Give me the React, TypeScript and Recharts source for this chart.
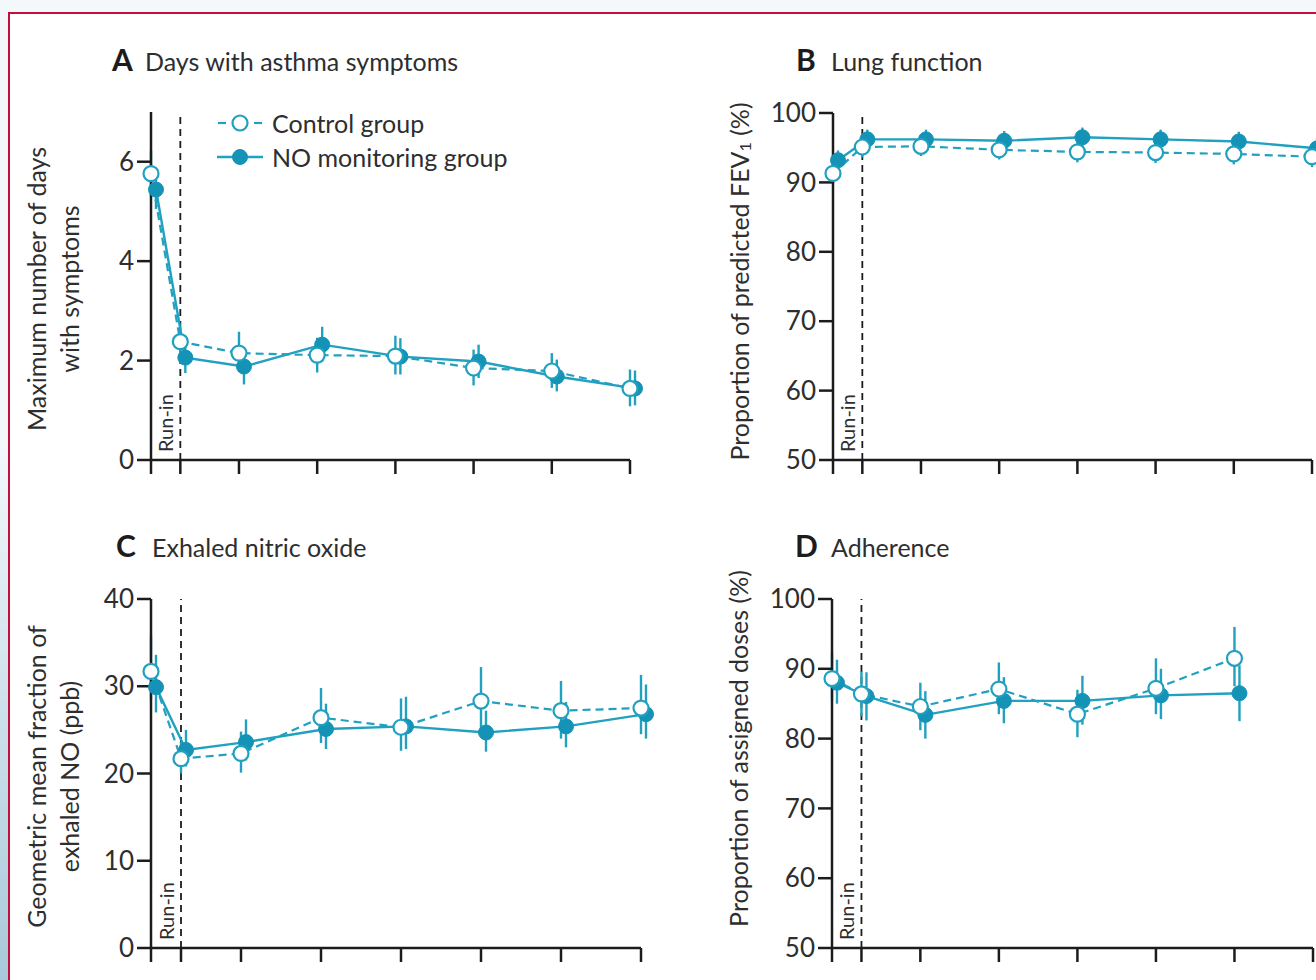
import React from "react";
import { LineChart, Line, XAxis, YAxis, ErrorBar, ReferenceLine, Legend } from "recharts";

// visit times (weeks from start of run-in); run-in ends at 1.5
const weeks = [0, 1.5, 4.5, 8.5, 12.5, 16.5, 20.5, 24.5];
const runInEnd = 1.5;

// A: days with asthma symptoms
const symptomsControl = [5.76, 2.38, 2.15, 2.11, 2.09, 1.85, 1.79, 1.44];
const symptomsControlLow = [5.3, 2.1, 1.78, 1.76, 1.72, 1.5, 1.45, 1.08];
const symptomsControlHigh = [6.22, 2.66, 2.58, 2.46, 2.5, 2.22, 2.15, 1.82];
const symptomsNO = [5.44, 2.06, 1.88, 2.32, 2.08, 1.98, 1.68, 1.44];
const symptomsNOLow = [5.05, 1.75, 1.52, 1.98, 1.72, 1.65, 1.38, 1.1];
const symptomsNOHigh = [5.85, 2.38, 2.26, 2.68, 2.45, 2.32, 2.02, 1.8];

// B: lung function (% predicted FEV1)
const fevControl = [91.3, 95.1, 95.2, 94.7, 94.4, 94.3, 94.1, 93.7];
const fevControlLow = [89.8, 93.6, 93.8, 93.3, 92.9, 92.8, 92.6, 92.2];
const fevControlHigh = [92.8, 96.6, 96.6, 96.1, 95.9, 95.8, 95.6, 95.2];
const fevNO = [93.2, 96.2, 96.2, 96.0, 96.5, 96.2, 95.9, 94.9];
const fevNOLow = [91.8, 94.8, 94.8, 94.6, 95.1, 94.8, 94.5, 93.5];
const fevNOHigh = [94.6, 97.6, 97.6, 97.4, 97.9, 97.6, 97.3, 96.3];

// C: exhaled nitric oxide (ppb)
const fenoControl = [31.7, 21.7, 22.3, 26.4, 25.3, 28.3, 27.2, 27.5];
const fenoControlLow = [28.5, 20.0, 20.1, 23.5, 22.6, 24.6, 24.0, 24.5];
const fenoControlHigh = [35.8, 23.6, 24.8, 29.8, 28.6, 32.2, 30.6, 31.3];
const fenoNO = [29.9, 22.7, 23.6, 25.1, 25.4, 24.7, 25.4, 26.8];
const fenoNOLow = [27.0, 20.8, 21.5, 22.8, 22.8, 22.5, 23.0, 24.0];
const fenoNOHigh = [33.6, 25.0, 26.2, 28.0, 28.8, 27.2, 28.2, 30.2];

// D: adherence (% of assigned doses), no value at last visit
const adhControl = [88.6, 86.4, 84.6, 87.1, 83.5, 87.2, 91.5];
const adhControlLow = [85.5, 83.2, 81.2, 83.5, 80.2, 83.5, 87.5];
const adhControlHigh = [92.3, 89.6, 88.0, 90.9, 87.0, 91.5, 96.0];
const adhNO = [88.0, 86.1, 83.4, 85.4, 85.4, 86.2, 86.5];
const adhNOLow = [85.0, 82.6, 80.0, 82.2, 82.0, 82.8, 82.5];
const adhNOHigh = [91.3, 89.5, 86.8, 88.8, 89.0, 90.0, 90.5];

const TEAL = "#21a0bf";
const DOT = "#1593b6";
const INK = "#1c1c1c";
const TEXT = "#2e2e2e";
const FONT = "Lato, 'Open Sans', sans-serif";
const DODGE_PX = 5; // NO group drawn a little right of the control group

function buildRows(ctrl: number[], ctrlLow: number[], ctrlHigh: number[], no: number[], noLow: number[], noHigh: number[]) {
  return ctrl.map((v, i) => ({
    week: weeks[i],
    ctrl: v,
    ctrlErr: [v - ctrlLow[i], ctrlHigh[i] - v],
    no: no[i],
    noErr: [no[i] - noLow[i], noHigh[i] - no[i]],
  }));
}

const runInLabel = (props: any) => {
  const vb = props.viewBox;
  const x = vb.x - 7;
  const y = vb.y + vb.height - 8;
  return (
    <text x={x} y={y} transform={`rotate(-90 ${x} ${y})`} fontSize={20} fill={TEXT} fontFamily={FONT}>
      Run-in
    </text>
  );
};

const yTitle = (lines: React.ReactNode[], xs: number[], dy: number) => (props: any) => {
  const vb = props.viewBox;
  const cy = vb.y + vb.height / 2 + dy;
  return (
    <g>
      {lines.map((l, i) => {
        const x = vb.x + xs[i];
        return (
          <text key={i} x={x} y={cy} transform={`rotate(-90 ${x} ${cy})`} textAnchor="middle" dominantBaseline="central" fontSize={25} fill={TEXT} fontFamily={FONT}>
            {l}
          </text>
        );
      })}
    </g>
  );
};

const legendContent = () => (
  <div style={{ fontFamily: FONT, fontSize: 25, color: TEXT }}>
    <div style={{ display: "flex", alignItems: "center", height: 34 }}>
      <svg width={48} height={24}>
        <line x1={2} y1={12} x2={10} y2={12} stroke={TEAL} strokeWidth={2.2} />
        <line x1={38} y1={12} x2={46} y2={12} stroke={TEAL} strokeWidth={2.2} />
        <circle cx={24} cy={12} r={7.5} fill="#fff" stroke={TEAL} strokeWidth={2.2} />
      </svg>
      <span style={{ marginLeft: 8 }}>Control group</span>
    </div>
    <div style={{ display: "flex", alignItems: "center", height: 34 }}>
      <svg width={48} height={24}>
        <line x1={1} y1={12} x2={47} y2={12} stroke={TEAL} strokeWidth={2.4} />
        <circle cx={24} cy={12} r={7.5} fill={DOT} stroke={DOT} strokeWidth={1} />
      </svg>
      <span style={{ marginLeft: 8 }}>NO monitoring group</span>
    </div>
  </div>
);

interface PanelProps {
  rows: any[];
  left: number;
  top: number;
  width: number;
  height: number;
  marginTop: number;
  yAxisWidth: number;
  domain: [number, number];
  ticks: number[];
  title: (props: any) => React.ReactNode;
  legend?: boolean;
}

function Panel({ rows, left, top, width, height, marginTop, yAxisWidth, domain, ticks, title, legend }: PanelProps) {
  const axisStyle = { stroke: INK, strokeWidth: 2.5 };
  return (
    <div style={{ position: "absolute", left, top }}>
      <LineChart width={width} height={height} data={rows} margin={{ top: marginTop, right: 30, bottom: 0, left: 0 }}>
        <XAxis
          xAxisId="main"
          dataKey="week"
          type="number"
          domain={[0, 24.5]}
          ticks={weeks}
          tickFormatter={() => ""}
          tickSize={14}
          height={40}
          axisLine={axisStyle}
          tickLine={axisStyle}
        />
        <XAxis
          xAxisId="dodge"
          dataKey="week"
          type="number"
          domain={[0, 24.5]}
          padding={{ left: DODGE_PX, right: -DODGE_PX }}
          height={0}
          hide
        />
        <YAxis
          type="number"
          domain={domain}
          ticks={ticks}
          width={yAxisWidth}
          tickSize={14}
          tickMargin={3}
          axisLine={axisStyle}
          tickLine={axisStyle}
          tick={{ fontSize: 26, fill: TEXT, fontFamily: FONT }}
          label={title}
        />
        <ReferenceLine xAxisId="main" x={runInEnd} stroke={INK} strokeWidth={1.8} strokeDasharray="7 5" label={runInLabel} />
        <Line
          xAxisId="dodge"
          dataKey="no"
          stroke={TEAL}
          strokeWidth={2.4}
          dot={{ r: 7.5, fill: DOT, stroke: DOT, strokeWidth: 1 }}
          activeDot={false}
          isAnimationActive={false}
        >
          <ErrorBar dataKey="noErr" width={0} stroke={TEAL} strokeWidth={2.4} direction="y" />
        </Line>
        <Line
          xAxisId="main"
          dataKey="ctrl"
          stroke={TEAL}
          strokeWidth={2.2}
          strokeDasharray="8 5"
          dot={{ r: 7.5, fill: "#fff", stroke: TEAL, strokeWidth: 2.2, strokeDasharray: "0" }}
          activeDot={false}
          isAnimationActive={false}
        >
          <ErrorBar dataKey="ctrlErr" width={0} stroke={TEAL} strokeWidth={2.4} direction="y" />
        </Line>
        {legend && (
          <Legend
            layout="horizontal"
            verticalAlign="middle"
            align="center"
            content={legendContent}
            wrapperStyle={{ left: 216, top: 106, width: 340, height: 70 }}
          />
        )}
      </LineChart>
    </div>
  );
}

const panelTitles = [
  { letter: "A", text: "Days with asthma symptoms", x: 112, tx: 145, y: 71 },
  { letter: "B", text: "Lung function", x: 796, tx: 831, y: 71 },
  { letter: "C", text: "Exhaled nitric oxide", x: 116, tx: 152, y: 557 },
  { letter: "D", text: "Adherence", x: 795, tx: 831, y: 557 },
];

export default function App() {
  const symptomsRows = buildRows(symptomsControl, symptomsControlLow, symptomsControlHigh, symptomsNO, symptomsNOLow, symptomsNOHigh);
  const fevRows = buildRows(fevControl, fevControlLow, fevControlHigh, fevNO, fevNOLow, fevNOHigh);
  const fenoRows = buildRows(fenoControl, fenoControlLow, fenoControlHigh, fenoNO, fenoNOLow, fenoNOHigh);
  const adhRows = buildRows(adhControl, adhControlLow, adhControlHigh, adhNO, adhNOLow, adhNOHigh);

  return (
    <div style={{ position: "fixed", left: 0, top: 0, width: 1316, height: 980, overflow: "hidden", background: "#f3f8fb" }}>
      <div style={{ position: "absolute", left: 0, top: 0, width: 8, height: 980, background: "linear-gradient(to bottom, #f3f8fb 45%, #a8c9da 100%)" }} />
      <div style={{ position: "absolute", left: 8, top: 12, width: 1400, height: 1000, border: "2.5px solid #c1103c", background: "#fff" }} />
      <svg width={1316} height={980} style={{ position: "absolute", left: 0, top: 0 }}>
        {panelTitles.map((t) => (
          <g key={t.letter} fontFamily={FONT} fill={INK}>
            <text x={t.x} y={t.y} fontSize={30} fontWeight={700}>{t.letter}</text>
            <text x={t.tx} y={t.y} fontSize={25} fill={TEXT}>{t.text}</text>
          </g>
        ))}
      </svg>
      <Panel
        rows={symptomsRows}
        left={0}
        top={0}
        width={660}
        height={500}
        marginTop={112}
        yAxisWidth={151}
        domain={[0, 7]}
        ticks={[0, 2, 4, 6]}
        title={yTitle(["Maximum number of days", "with symptoms"], [36, 69], 3)}
        legend
      />
      <Panel
        rows={fevRows}
        left={680}
        top={0}
        width={662}
        height={500}
        marginTop={113}
        yAxisWidth={153}
        domain={[50, 100]}
        ticks={[50, 60, 70, 80, 90, 100]}
        title={yTitle([
          <>
            Proportion of predicted FEV<tspan dy={5} fontSize={16}>1</tspan>
            <tspan dy={-5}> (%)</tspan>
          </>,
        ], [59], -5)}
      />
      <Panel
        rows={fenoRows}
        left={0}
        top={500}
        width={671}
        height={488}
        marginTop={99}
        yAxisWidth={151}
        domain={[0, 40]}
        ticks={[0, 10, 20, 30, 40]}
        title={yTitle(["Geometric mean fraction of", "exhaled NO (ppb)"], [36, 69], 3)}
      />
      <Panel
        rows={adhRows}
        left={680}
        top={500}
        width={663}
        height={488}
        marginTop={99}
        yAxisWidth={152}
        domain={[50, 100]}
        ticks={[50, 60, 70, 80, 90, 100]}
        title={yTitle(["Proportion of assigned doses (%)"], [58], -25)}
      />
    </div>
  );
}
